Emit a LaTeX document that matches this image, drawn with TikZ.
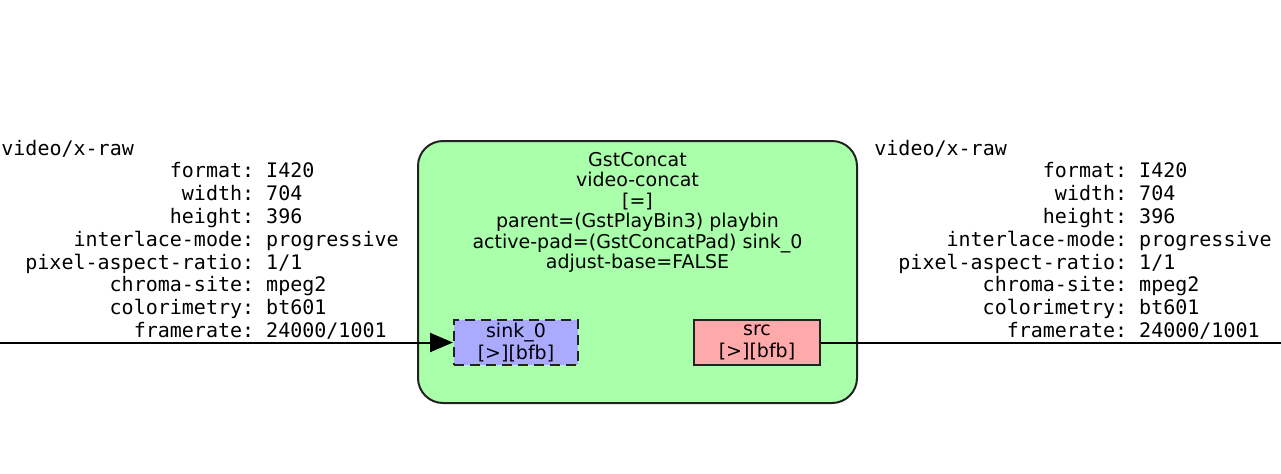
\documentclass[tikz,border=0pt]{standalone}
\usepackage{fontspec}
\setmainfont{DejaVu Sans}
\setmonofont{DejaVu Sans Mono}
\usetikzlibrary{arrows.meta}

\definecolor{elemgreen}{HTML}{AAFFAA}
\definecolor{sinkblue}{HTML}{AAAAFF}
\definecolor{srcred}{HTML}{FFAAAA}
\definecolor{edgegray}{HTML}{222222}

\newcommand{\capline}[2]{\makebox[126.4pt][r]{#1:}\ #2}
\newcommand{\capstext}{video/x-raw\\
    \capline{format}{I420}\\
    \capline{width}{704}\\
    \capline{height}{396}\\
    \capline{interlace-mode}{progressive}\\
    \capline{pixel-aspect-ratio}{1/1}\\
    \capline{chroma-site}{mpeg2}\\
    \capline{colorimetry}{bt601}\\
    \capline{framerate}{24000/1001}}

\tikzset{
    caps/.style={anchor=north west, inner sep=0pt, align=left, font=\ttfamily\fontsize{10pt}{11.4pt}\selectfont},
    elemtext/.style={inner sep=0pt, align=center, font=\fontsize{9.5pt}{10.2pt}\selectfont},
    padbox/.style={elemtext, draw=edgegray, line width=1pt, minimum height=22.5pt, font=\fontsize{9.5pt}{10.8pt}\selectfont},
    link/.style={line width=1pt},
}

\begin{document}
\begin{tikzpicture}[x=0.5pt, y=-0.5pt]
    \useasboundingbox (0,0) rectangle (1281,473);
    \node[draw=edgegray, line width=1pt, fill=elemgreen, rounded corners=12.5pt, minimum width=219.5pt, minimum height=131pt] (concat) at (637.5,272) {};
    \node[elemtext, anchor=north] (concatlbl) at (637.5,152) {GstConcat\\video-concat\\{[=]}\\parent=(GstPlayBin3) playbin\\active-pad=(GstConcatPad) sink\_0\\adjust-base=FALSE};
    \node[padbox, fill=sinkblue, dash pattern=on 5pt off 3pt, minimum width=62pt] (sink0) at (516,342.5) {sink\_0\\{[>][bfb]}};
    \node[padbox, fill=srcred, minimum width=63pt] (src) at (757,342.5) {src\\{[>][bfb]}};
    \coordinate (capin) at (0,342.5);
    \coordinate (capout) at (1281,342.5);
    \draw[link, -{Triangle[length=11.5pt, width=9.5pt]}] (capin) -- (sink0.west);
    \draw[link] (src.east) -- (capout);
    \foreach \nm/\x in {capsleft/1, capsright/874} {\node[caps] (\nm) at (\x,139.5) {\capstext};}
\end{tikzpicture}
\end{document}
